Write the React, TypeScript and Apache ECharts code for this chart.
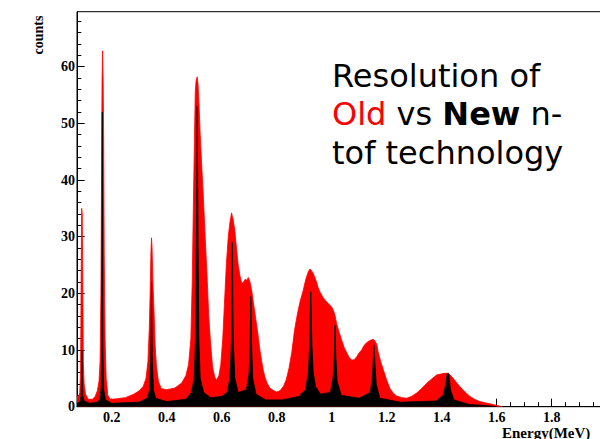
import React, { useEffect, useRef } from "react";
import * as echarts from "echarts";

// Old n-tof technology (red) : [energy MeV, counts]
const oldHistogram: [number, number][] = [
  [0.074, 1.8], [0.080, 1.8], [0.084, 2.5], [0.087, 6], [0.089, 22], [0.091, 35], [0.093, 34], [0.095, 22],
  [0.097, 8], [0.100, 4], [0.105, 2.2], [0.115, 1.3], [0.130, 1.3], [0.140, 1.8], [0.148, 2.8], [0.154, 4.5],
  [0.158, 8], [0.161, 20], [0.163, 38], [0.165, 57], [0.167, 62.8], [0.169, 58], [0.171, 47], [0.173, 27],
  [0.176, 12], [0.180, 5], [0.186, 2], [0.195, 1.3], [0.220, 1.4], [0.250, 1.6], [0.280, 2.2], [0.300, 2.8],
  [0.315, 3.6], [0.325, 5], [0.332, 8], [0.337, 14], [0.340, 20], [0.343, 27.5], [0.345, 29.8], [0.347, 28],
  [0.350, 22], [0.354, 17], [0.358, 11], [0.363, 7], [0.370, 4.5], [0.380, 3.2], [0.400, 3], [0.430, 3.3],
  [0.455, 4.2], [0.470, 5.5], [0.480, 7.5], [0.488, 12], [0.493, 22], [0.497, 35], [0.501, 47], [0.504, 55.5],
  [0.507, 57.5], [0.511, 58.2], [0.514, 57], [0.518, 53], [0.522, 48], [0.527, 43], [0.533, 37.5], [0.540, 30],
  [0.547, 23], [0.553, 16], [0.560, 11], [0.567, 7], [0.575, 5.2], [0.582, 4.7], [0.590, 5.5], [0.597, 7.5],
  [0.604, 12], [0.610, 18], [0.617, 25], [0.624, 30], [0.630, 32.5], [0.636, 34.2], [0.642, 33], [0.648, 31],
  [0.654, 28], [0.660, 25], [0.667, 23], [0.673, 21.8], [0.680, 22], [0.686, 22.5], [0.692, 22.3], [0.697, 22.8],
  [0.703, 22], [0.709, 20.6], [0.715, 18.5], [0.721, 16.5], [0.727, 14.5], [0.733, 12.4], [0.739, 10], [0.745, 8.2],
  [0.751, 6.5], [0.757, 5.3], [0.765, 4.2], [0.775, 3.3], [0.790, 2.8], [0.800, 2.6], [0.812, 2.8], [0.825, 3.6],
  [0.835, 4.8], [0.845, 6.8], [0.855, 9.6], [0.865, 13.5], [0.876, 16.5], [0.885, 18.5], [0.897, 20.6], [0.906, 22.5],
  [0.915, 23.8], [0.921, 24.3], [0.927, 24], [0.933, 23.5], [0.939, 22.8], [0.945, 22], [0.951, 21], [0.958, 20.2],
  [0.964, 19.7], [0.970, 19.2], [0.976, 18.8], [0.982, 18.5], [0.988, 18.2], [0.994, 17.9], [1.000, 17.6], [1.006, 17],
  [1.012, 16.2], [1.018, 14.7], [1.027, 13.2], [1.036, 11.8], [1.045, 10.5], [1.055, 9.5], [1.064, 8.7], [1.073, 8.2],
  [1.082, 8.3], [1.091, 8.8], [1.100, 9.5], [1.109, 10], [1.118, 10.8], [1.127, 11.3], [1.136, 11.6], [1.145, 11.8],
  [1.151, 11.9], [1.157, 11.6], [1.164, 11], [1.169, 9.7], [1.178, 8], [1.188, 6.5], [1.200, 4.7], [1.212, 3.2],
  [1.224, 2.4], [1.236, 1.9], [1.255, 1.6], [1.273, 1.5], [1.290, 1.8], [1.309, 2.4], [1.327, 3.2], [1.345, 4.1],
  [1.364, 4.9], [1.382, 5.6], [1.400, 5.8], [1.412, 5.9], [1.425, 5.9], [1.442, 5], [1.455, 4.2], [1.467, 3.5],
  [1.485, 2.6], [1.503, 1.8], [1.520, 1.3], [1.539, 0.9], [1.557, 0.7], [1.576, 0.5], [1.594, 0.3], [1.612, 0.1],
  [1.620, 0],
];

// New n-tof technology (black) : [energy MeV, counts]
const newHistogram: [number, number][] = [
  [0.074, 0.6], [0.085, 0.8], [0.089, 2], [0.091, 6], [0.092, 10], [0.093, 6], [0.095, 2], [0.100, 1],
  [0.120, 0.6], [0.150, 0.8], [0.158, 1.5], [0.162, 3.5], [0.164, 10], [0.165, 30], [0.166, 52], [0.167, 30],
  [0.168, 10], [0.171, 3], [0.178, 1.2], [0.200, 0.6], [0.300, 0.8], [0.330, 1.5], [0.338, 3], [0.342, 8],
  [0.344, 16], [0.345, 22], [0.346, 16], [0.348, 8], [0.352, 3], [0.360, 1.5], [0.400, 0.9], [0.470, 1.3],
  [0.490, 2.5], [0.500, 5], [0.505, 12], [0.508, 30], [0.511, 53], [0.514, 30], [0.517, 12], [0.522, 5],
  [0.535, 2.5], [0.560, 1.6], [0.600, 1.8], [0.620, 2.5], [0.630, 5], [0.636, 12], [0.639, 29], [0.642, 12],
  [0.648, 5], [0.660, 2.5], [0.690, 3], [0.700, 6], [0.704, 12], [0.706, 19.4], [0.708, 12], [0.713, 5],
  [0.725, 2.2], [0.760, 1.2], [0.820, 1.2], [0.880, 1.8], [0.905, 3], [0.915, 6], [0.920, 11], [0.924, 20.3],
  [0.928, 11], [0.933, 6], [0.942, 3.5], [0.960, 2.2], [0.995, 2.5], [1.005, 5], [1.010, 9], [1.012, 14.4],
  [1.015, 9], [1.020, 4.5], [1.035, 2], [1.100, 1.5], [1.140, 2.5], [1.148, 5], [1.152, 9], [1.154, 10.9],
  [1.157, 8], [1.162, 4], [1.175, 1.5], [1.250, 0.8], [1.380, 1], [1.405, 2], [1.415, 4], [1.420, 5.8],
  [1.426, 5.8], [1.432, 3], [1.445, 1.2], [1.500, 0.4], [1.560, 0.2], [1.600, 0],
];

const xMajorTicks = [0.2, 0.4, 0.6, 0.8, 1, 1.2, 1.4, 1.6, 1.8, 2];
const xTickLabels = [0.2, 0.4, 0.6, 0.8, 1, 1.2, 1.4, 1.6, 1.8];
const xMinorTicks = [
  0.1, 0.15, 0.25, 0.3, 0.35, 0.45, 0.5, 0.55, 0.65, 0.7, 0.75, 0.85, 0.9, 0.95, 1.05, 1.1, 1.15,
  1.25, 1.3, 1.35, 1.45, 1.5, 1.55, 1.65, 1.7, 1.75, 1.85, 1.9, 1.95,
];
const yMajorTicks = [0, 10, 20, 30, 40, 50, 60];
const yMinorTicks = [
  2, 4, 6, 8, 12, 14, 16, 18, 22, 24, 26, 28, 32, 34, 36, 38, 42, 44, 46, 48, 52, 54, 56, 58, 62, 64, 66, 68,
];

const X_MIN = 0.074;
const X_MAX = 2.0;
const Y_MAX = 69.7;

const serif = "'Liberation Serif', 'DejaVu Serif', serif";
const sans = "'DejaVu Sans', 'Open Sans', sans-serif";

export default function App() {
  const ref = useRef<HTMLDivElement>(null);

  useEffect(() => {
    if (!ref.current) return;
    const chart = echarts.init(ref.current, undefined, { renderer: "svg" });
    const gridLeft = 77;
    const gridTop = 11.7;
    const gridBottomPx = 406.7;
    const gridWidth = (X_MAX - X_MIN) * 275;

    const xBase = {
      type: "value" as const,
      min: X_MIN,
      max: X_MAX,
      splitLine: { show: false },
      position: "bottom" as const,
    };
    const yBase = {
      type: "value" as const,
      min: 0,
      max: Y_MAX,
      splitLine: { show: false },
      position: "left" as const,
    };

    const bigText = { fontSize: 32, fontFamily: sans, lineHeight: 38 };

    chart.setOption({
      animation: false,
      backgroundColor: "#fff",
      grid: {
        left: gridLeft,
        top: gridTop,
        width: gridWidth,
        height: gridBottomPx - gridTop,
        show: true,
        borderColor: "#000",
        borderWidth: 1,
        backgroundColor: "transparent",
      },
      xAxis: [
        {
          ...xBase,
          axisLine: { show: true, lineStyle: { color: "#000", width: 1 } },
          axisTick: { show: true, inside: true, length: 8, customValues: xMajorTicks, lineStyle: { color: "#000" } },
          axisLabel: {
            show: true,
            customValues: xTickLabels,
            margin: 4,
            color: "#000",
            fontFamily: serif,
            fontWeight: "bold",
            fontSize: 14,
            formatter: (v: number) => String(v),
          },
        },
        {
          ...xBase,
          axisLine: { show: false },
          axisTick: { show: true, inside: true, length: 4.5, customValues: xMinorTicks, lineStyle: { color: "#000" } },
          axisLabel: { show: false },
        },
      ],
      yAxis: [
        {
          ...yBase,
          axisLine: { show: true, lineStyle: { color: "#000", width: 1 } },
          axisTick: { show: true, inside: true, length: 7.7, customValues: yMajorTicks, lineStyle: { color: "#000" } },
          axisLabel: {
            show: true,
            customValues: yMajorTicks,
            margin: 2,
            color: "#000",
            fontFamily: serif,
            fontWeight: "bold",
            fontSize: 14,
          },
        },
        {
          ...yBase,
          axisLine: { show: false },
          axisTick: { show: true, inside: true, length: 4.3, customValues: yMinorTicks, lineStyle: { color: "#000" } },
          axisLabel: { show: false },
        },
      ],
      series: [
        {
          name: "Old",
          type: "line",
          xAxisIndex: 0,
          yAxisIndex: 0,
          data: oldHistogram,
          showSymbol: false,
          symbol: "none",
          lineStyle: { color: "#ff0000", width: 0.8 },
          areaStyle: { color: "#ff0000", opacity: 1 },
          z: 2,
        },
        {
          name: "New",
          type: "line",
          xAxisIndex: 0,
          yAxisIndex: 0,
          data: newHistogram,
          showSymbol: false,
          symbol: "none",
          lineStyle: { color: "#000000", width: 0.8 },
          areaStyle: { color: "#000000", opacity: 1 },
          z: 3,
        },
      ],
      graphic: [
        {
          type: "text",
          x: 38,
          y: 35,
          rotation: Math.PI / 2,
          style: {
            text: "counts",
            fill: "#000",
            font: `bold 14px ${serif}`,
            align: "center",
            verticalAlign: "middle",
          },
        },
        {
          type: "text",
          left: 502,
          top: 425,
          style: {
            text: "Energy(MeV)",
            fill: "#000",
            font: `bold 15px ${serif}`,
          },
        },
        {
          type: "text",
          x: 332,
          y: 75.5,
          style: {
            text: "Resolution of",
            fill: "#000",
            ...bigText,
            verticalAlign: "middle",
          },
        },
        {
          type: "text",
          x: 332,
          y: 114,
          style: {
            text: "{r|Old} {n|vs} {b|New} {n|n-}",
            verticalAlign: "middle",
            rich: {
              r: { fill: "#ff0000", ...bigText },
              n: { fill: "#000", ...bigText },
              b: { fill: "#000", ...bigText, fontWeight: "bold" },
            },
            fill: "#000",
            ...bigText,
          },
        },
        {
          type: "text",
          x: 332,
          y: 152.5,
          style: {
            text: "tof technology",
            fill: "#000",
            ...bigText,
            verticalAlign: "middle",
          },
        },
      ],
    });
    return () => chart.dispose();
  }, []);

  return (
    <div
      style={{
        position: "fixed",
        left: 0,
        top: 0,
        width: 600,
        height: 439,
        overflow: "hidden",
        background: "#fff",
      }}
    >
      <div ref={ref} style={{ width: 640, height: 439 }} />
    </div>
  );
}
